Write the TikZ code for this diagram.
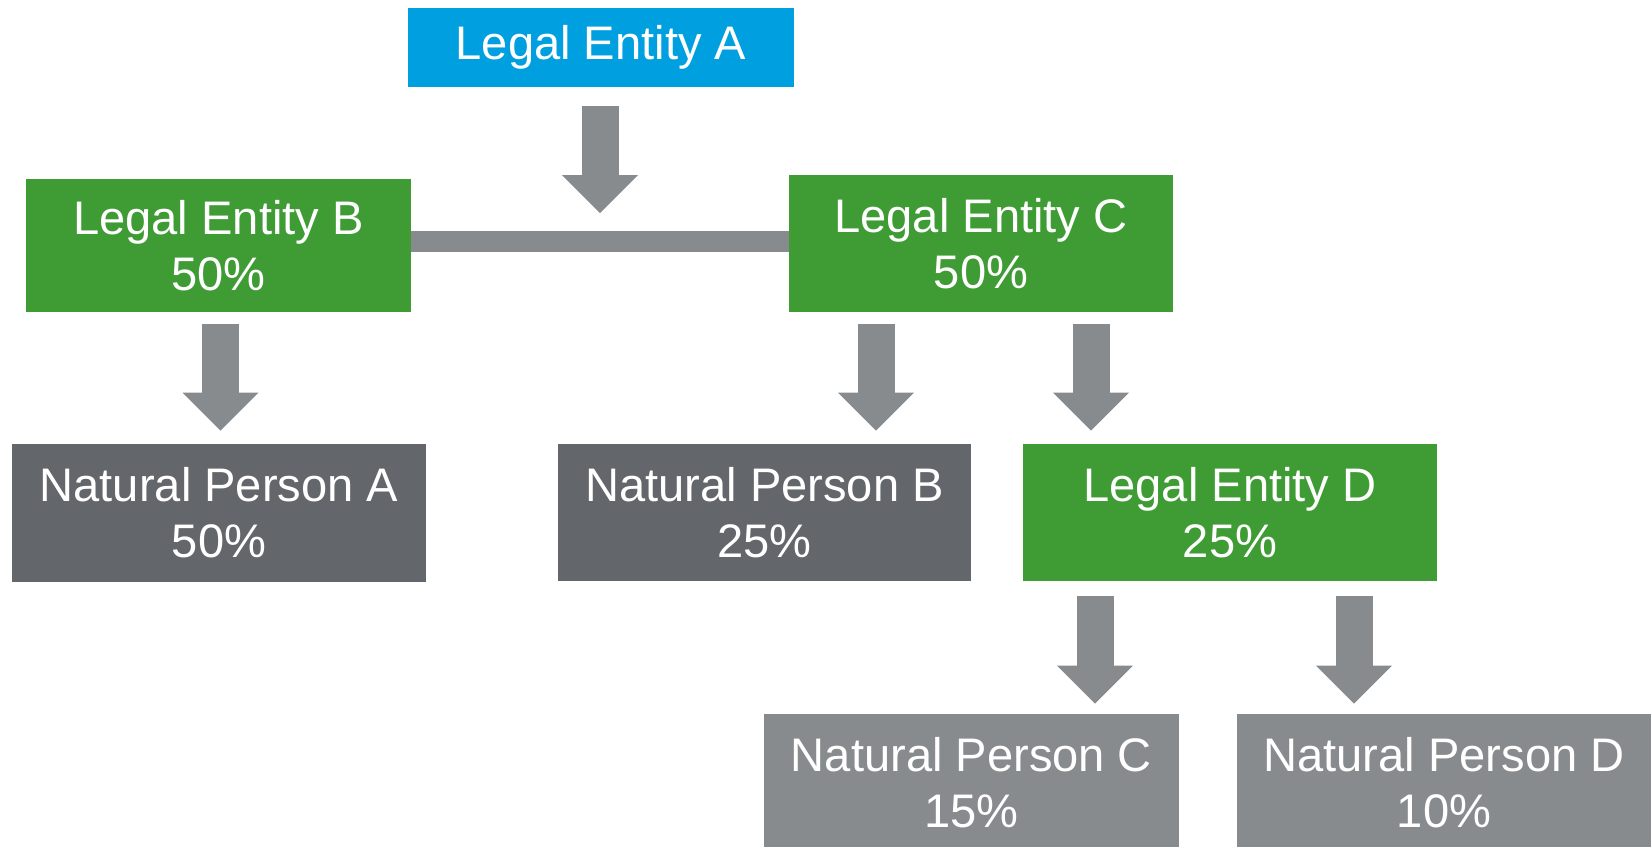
\documentclass[tikz,border=0pt]{standalone}
\usepackage{fontspec}
\setmainfont{Liberation Sans}
\usepackage{tikz}
\usetikzlibrary{arrows.meta,calc,positioning}
\definecolor{leblue}{RGB}{0,159,223}
\definecolor{legreen}{RGB}{63,156,53}
\definecolor{npdark}{RGB}{99,102,106}
\definecolor{nplight}{RGB}{136,139,141}
\tikzstyle{entity} = [rectangle, inner sep=0pt, align=center, text=white, font=\fontsize{26.8}{32}\selectfont]
\tikzstyle{owns} = [line width=0.74cm, color=nplight, -{Triangle[width=1.52cm,length=0.76cm,line width'=0pt]}, shorten <=0.24cm, shorten >=0.26cm]
\tikzstyle{link} = [line width=0.42cm, color=nplight]

\begin{document}
\begin{tikzpicture}[x=0.02cm, y=-0.02cm]
    \useasboundingbox (0,0) rectangle (1651,846);

    % top entity
    \node[entity, fill=leblue, minimum width=7.72cm, minimum height=1.58cm] (lea) at (601,47.5) {Legal Entity A};

    % second level
    \node[entity, fill=legreen, minimum width=7.7cm, minimum height=2.66cm] (leb) at (218.5,245.5) {Legal Entity B\\50\%};
    \node[entity, fill=legreen, minimum width=7.68cm, minimum height=2.74cm] (lec) at (981,243.5) {Legal Entity C\\50\%};

    % third level
    \node[entity, fill=npdark, minimum width=8.28cm, minimum height=2.76cm] (npa) at (219,513) {Natural Person A\\50\%};
    \node[entity, fill=npdark, minimum width=8.26cm, minimum height=2.74cm] (npb) at (764.5,512.5) {Natural Person B\\25\%};
    \node[entity, fill=legreen, minimum width=8.28cm, minimum height=2.74cm] (led) at (1230,512.5) {Legal Entity D\\25\%};

    % bottom level
    \node[entity, fill=nplight, minimum width=8.3cm, minimum height=2.74cm] (npc) at (971.5,782.5) {Natural Person C\\15\%};
    \node[entity, fill=nplight, minimum width=8.28cm, minimum height=2.74cm] (npd) at (1444,782.5) {Natural Person D\\10\%};

    % joint holding of B and C
    \draw[link] (leb.east |- 0,241.5) -- coordinate[pos=0.5] (join) (lec.west |- 0,241.5);

    % ownership arrows
    \draw[owns, shorten <=0.38cm, shorten >=0.57cm] (join |- lea.south) -- (join);
    \coordinate (b1) at ($(leb.south)+(2,0)$);
    \draw[owns] (b1) -- (b1 |- npa.north);

    \coordinate (c1) at ($(lec.south)+(-105,0)$);
    \coordinate (c2) at ($(lec.south)+(110,0)$);
    \draw[owns] (c1) -- (c1 |- npb.north);
    \draw[owns] (c2) -- (c2 |- led.north);

    \coordinate (d1) at ($(led.south)+(-135,0)$);
    \coordinate (d2) at ($(led.south)+(124,0)$);
    \draw[owns, shorten <=0.3cm, shorten >=0.2cm] (d1) -- (d1 |- npc.north);
    \draw[owns, shorten <=0.3cm, shorten >=0.2cm] (d2) -- (d2 |- npd.north);
\end{tikzpicture}
\end{document}
